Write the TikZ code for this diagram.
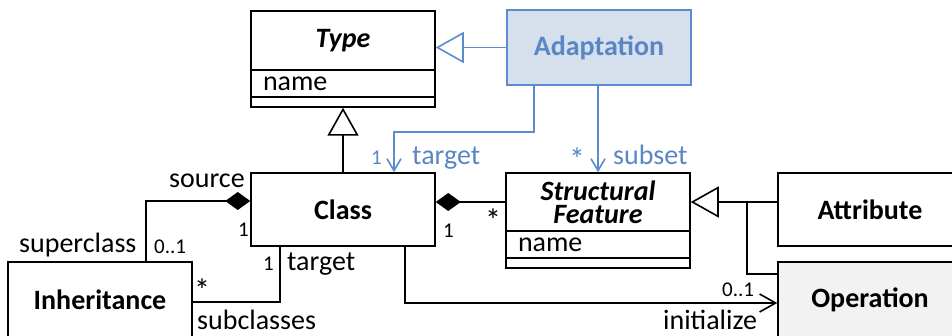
\documentclass[tikz,border=0pt]{standalone}
\usepackage{fontspec}
\setmainfont{Carlito}
\usetikzlibrary{arrows.meta}

\definecolor{adaptblue}{HTML}{5B8BD3}
\definecolor{adaptfill}{HTML}{D6DFEC}
\definecolor{adapttext}{HTML}{5A86C4}
\definecolor{opfill}{HTML}{F2F2F2}

\tikzset{
  umlbox/.style={draw, line width=1.5pt, minimum width=184pt, inner sep=0pt,
    font=\fontsize{28}{23}\selectfont\bfseries, align=center},
  umlrow/.style={draw, line width=1.5pt, minimum height=27pt, text width=160pt,
    inner xsep=12pt, inner ysep=0pt, align=left, font=\fontsize{28}{28}\selectfont},
  plain/.style={line width=1.6pt},
  gen/.style={plain, -{Triangle[open, length=28pt, width=31pt]}},
  comp/.style={plain, -{Diamond[length=25pt, width=18pt]}},
  assoc/.style={plain, -{Straight Barb[length=16pt, width=18pt]}},
  bluearrow/.style={plain, adaptblue, -{Straight Barb[length=12pt, width=14pt]}},
  role/.style={inner sep=0pt, font=\fontsize{28}{28}\selectfont},
  mult/.style={inner sep=0pt, font=\fontsize{21}{21}\selectfont},
  star/.style={inner sep=0pt, font=\fontsize{32}{32}\selectfont},
}

\begin{document}
\begin{tikzpicture}[x=1pt, y=-1pt]
\useasboundingbox (0,0) rectangle (952,336);

% classes
\node[umlbox, minimum height=59pt] (typetitle) at (343,40.5) {\textit{Type}};
\node[umlrow] (typeattr) at (343,83.5) {name};
\node[umlbox, minimum height=10pt] (typeops) at (343,102) {};

\node[umlbox, minimum height=75pt, draw=adaptblue, fill=adaptfill, text=adapttext]
  (adapt) at (599,47.5) {Adaptation};

\node[umlbox, minimum height=73pt] (klass) at (343,209.5) {Class};

\node[umlbox, minimum height=58pt] (sftitle) at (598,202) {\textit{Structural}\\\textit{Feature}};
\node[umlrow] (sfattr) at (598,244.5) {name};
\node[umlbox, minimum height=10pt] (sfops) at (598,263) {};

\node[umlbox, minimum height=73pt] (attrib) at (870,209.5) {Attribute};
\node[umlbox, minimum height=76pt, fill=opfill] (oper) at (870,300) {Operation};
\node[umlbox, minimum height=76pt] (inherit) at (100,300) {Inheritance};

% generalizations
\draw[gen, adaptblue] (adapt.west) -- (adapt.west -| typetitle.east);
\draw[gen] (klass.north) -- (typeops.south);
\coordinate (genjoin) at (747,202);
\draw[gen] (attrib.west |- sftitle.east) -- (sftitle.east);
\draw[plain] ([yshift=26]oper.west) -| (genjoin);

% compositions
\draw[comp] (sftitle.west) -- (sftitle.west -| klass.east);
\draw[comp] ([xshift=46]inherit.north) |- ([yshift=8.5]klass.west);

% associations
\draw[plain] ([xshift=-63]klass.south) |- ([yshift=-2]inherit.east);
\draw[assoc] ([xshift=62]klass.south) |- ([yshift=-3]oper.west);

% adaptation links
\coordinate (tbend) at (394,132);
\draw[bluearrow] ([xshift=-65]adapt.south) |- (tbend) -- (tbend |- klass.north);
\draw[bluearrow] (sftitle.north |- adapt.south) -- (sftitle.north);

% role names
\foreach \t/\x/\y [count=\i] in {source/169/188, superclass/19/253, target/287/271,
    subclasses/197/329, initialize/663/329}
  \node[role, anchor=base west] (role\i) at (\x,\y) {\t};
% multiplicities
\foreach \t/\x/\y [count=\i] in {1/238/237, 0..1/154/254, 1/263/271, 1/443/238, 0..1/722/297}
  \node[mult, anchor=base west] (mult\i) at (\x,\y) {\t};
\node[star] (star1) at (202,290) {*};
\node[star] (star2) at (493,220) {*};

% adaptation labels
\node[mult, adapttext, anchor=base west] (bone) at (371,165) {1};
\node[role, adapttext, anchor=base west] (btarget) at (412,165) {target};
\node[star, adapttext] (bstar) at (577,159) {*};
\node[role, adapttext, anchor=base west] (bsubset) at (613,165) {subset};

\end{tikzpicture}
\end{document}
